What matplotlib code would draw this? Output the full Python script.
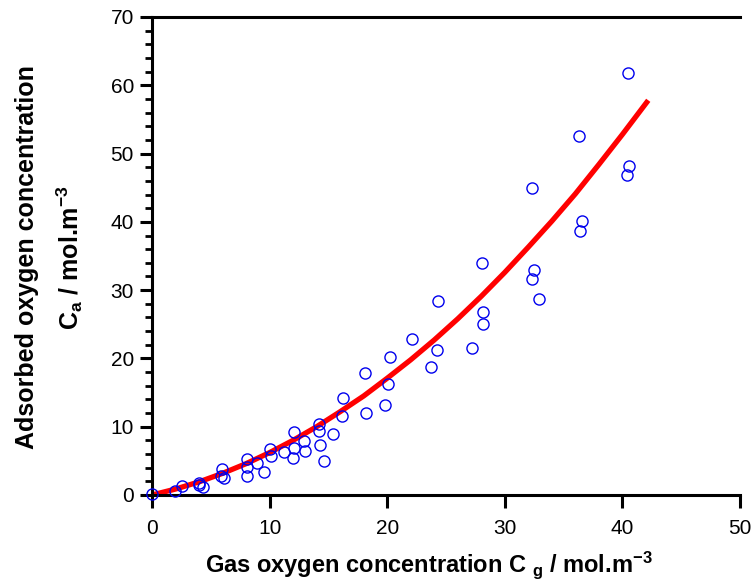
import matplotlib
matplotlib.use("Agg")
import matplotlib.pyplot as plt
from matplotlib.ticker import MultipleLocator

plt.rcParams["font.family"] = ["Liberation Sans", "DejaVu Sans"]
plt.rcParams["mathtext.fontset"] = "custom"
plt.rcParams["mathtext.bf"] = "Liberation Sans:bold"
plt.rcParams["mathtext.rm"] = "Liberation Sans:bold"
plt.rcParams["mathtext.default"] = "bf"

# measured points (gas conc, adsorbed conc)
gas_conc = [0.0, 1.96, 2.58, 3.97, 4.0, 4.3, 5.98, 5.84, 6.1, 8.05, 8.05, 8.05,
            8.9, 9.52, 10.03, 10.15, 11.2, 12.1, 12.07, 12.0, 12.9, 13.0, 14.2,
            14.2, 14.3, 14.65, 15.37, 16.2, 16.13, 18.1, 18.2, 19.84, 20.07,
            20.2, 22.1, 23.7, 24.23, 24.35, 27.2, 28.1, 28.17, 28.17, 32.29,
            32.48, 32.34, 32.9, 36.34, 36.54, 36.4, 40.5, 40.56, 40.4]
adsorbed_conc = [0.1, 0.63, 1.3, 1.7, 1.4, 1.1, 3.76, 2.78, 2.5, 5.3, 4.05, 2.83,
                 4.64, 3.42, 6.78, 5.7, 6.3, 9.17, 6.9, 5.46, 7.9, 6.44, 10.35,
                 9.4, 7.27, 5.02, 8.88, 14.25, 11.57, 17.8, 12.05, 13.2, 16.25,
                 20.25, 22.9, 18.8, 21.3, 28.36, 21.5, 34.0, 26.75, 25.0, 44.9,
                 32.94, 31.6, 28.7, 52.6, 40.16, 38.7, 61.8, 48.2, 46.9]

# fitted curve
fit_x = [0, 2, 4, 6, 8, 10, 12, 14, 16, 18, 20, 22, 24, 26, 28, 30, 32, 34,
         36, 38, 40, 42.2]
fit_y = [0, 0.87, 1.92, 3.17, 4.59, 6.21, 8.01, 10.0, 12.2, 14.5, 17.1, 19.8,
         22.7, 25.8, 29.1, 32.6, 36.3, 40.1, 44.1, 48.4, 52.8, 57.8]

fig = plt.figure(figsize=(7.54, 5.86), dpi=100)
ax = fig.add_axes([0.2016, 0.1553, 0.7798, 0.8157])

ax.plot(fit_x, fit_y, color="#ff0000", linewidth=3.8, solid_capstyle="butt", zorder=2)
ax.plot(gas_conc, adsorbed_conc, linestyle="none", marker="o", markersize=8,
        markerfacecolor="none", markeredgecolor="#0000ee", markeredgewidth=1.0,
        clip_on=False, zorder=3)

ax.set_xlim(0, 50)
ax.set_ylim(0, 70)
ax.xaxis.set_major_locator(MultipleLocator(10))
ax.yaxis.set_major_locator(MultipleLocator(10))
ax.yaxis.set_minor_locator(MultipleLocator(2))

ax.spines["right"].set_visible(False)
for side in ["left", "bottom", "top"]:
    ax.spines[side].set_linewidth(2.2)

ax.tick_params(axis="both", which="major", direction="out", length=9, width=2.2,
               labelsize=15, pad=4)
ax.tick_params(axis="x", which="major", pad=8)
ax.tick_params(axis="y", which="minor", direction="out", length=5, width=2.0)

fig.text(0.272, 0.024, r"Gas oxygen concentration C $_{\mathbf{g}}$ / mol.m$^{\mathbf{-3}}$",
         ha="left", va="baseline", fontsize=17, fontweight="bold")
fig.text(0.036, 0.561, "Adsorbed oxygen concentration", rotation=90,
         ha="center", va="center", fontsize=18, fontweight="bold")
fig.text(0.092, 0.561, r"C$_{\mathbf{a}}$ / mol.m$^{\mathbf{-3}}$", rotation=90,
         ha="center", va="center", fontsize=18, fontweight="bold")

fig.savefig("out.png", dpi=100)
